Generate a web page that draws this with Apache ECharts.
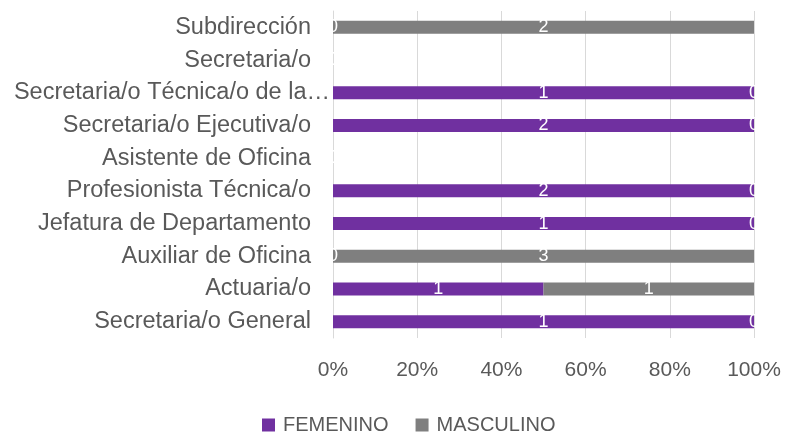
<!DOCTYPE html>
<html><head><meta charset="utf-8">
<script src="https://cdn.jsdelivr.net/npm/echarts@6/dist/echarts.min.js"></script>
<style>html,body{margin:0;padding:0;background:#fff}#c{width:785px;height:433px}</style>
</head><body><div id="c"></div>
<script>
const categories = ["Secretaria/o General","Actuaria/o","Auxiliar de Oficina","Jefatura de Departamento","Profesionista Técnica/o","Asistente de Oficina","Secretaria/o Ejecutiva/o","Secretaria/o Técnica/o de la…","Secretaria/o","Subdirección"];
const femenino = [1,1,0,1,2,0,2,1,0,0];
const masculino = [0,1,3,0,0,0,0,0,0,2];
const xTicks = ["0%","20%","40%","60%","80%","100%"];

function pct(a, b){ return a.map((v,i)=>{ const t=a[i]+b[i]; return t ? v/t*100 : 0; }); }
const fP = pct(femenino, masculino), mP = pct(masculino, femenino);

const FF = "'Liberation Sans', Arial, sans-serif";
const chart = echarts.init(document.getElementById('c'), null, {renderer:'canvas'});
const lbl = (counts)=>({show:true, position:'inside', color:'#fff', fontFamily:FF, fontSize:18, formatter:p=>String(counts[p.dataIndex])});
const yData = categories.map(c => c.endsWith('…') ? {value:c, textStyle:{padding:[0,-19,0,0]}} : c);
chart.setOption({
  animation:false,
  grid:{left:333, right:31, top:11, bottom:95, containLabel:false, outerBoundsMode:'none'},
  legend:{top:410, left:257, padding:5, itemWidth:13, itemHeight:13, itemGap:27, icon:'rect',
    textStyle:{color:'#595959', fontFamily:FF, fontSize:20, padding:[0,0,0,3]},
    data:['FEMENINO','MASCULINO']},
  xAxis:{type:'value', min:0, max:100, interval:20,
    axisLabel:{color:'#595959', fontFamily:FF, fontSize:21, margin:22,
      formatter:v=>xTicks[Math.round(v/20)]},
    splitLine:{lineStyle:{color:'#d9d9d9', width:1}}, axisLine:{show:false}, axisTick:{show:false}},
  yAxis:{type:'category', data:yData, axisTick:{show:false},
    axisLine:{show:true, lineStyle:{color:'#d9d9d9'}},
    axisLabel:{color:'#595959', fontFamily:FF, fontSize:23.5, margin:22}},
  series:[
    {name:'FEMENINO', type:'bar', stack:'t', barWidth:13, itemStyle:{color:'#7030a0'}, data:fP, label:lbl(femenino)},
    {name:'MASCULINO', type:'bar', stack:'t', barWidth:13, itemStyle:{color:'#7f7f7f'}, data:mP, label:lbl(masculino)}
  ]
});
</script></body></html>
